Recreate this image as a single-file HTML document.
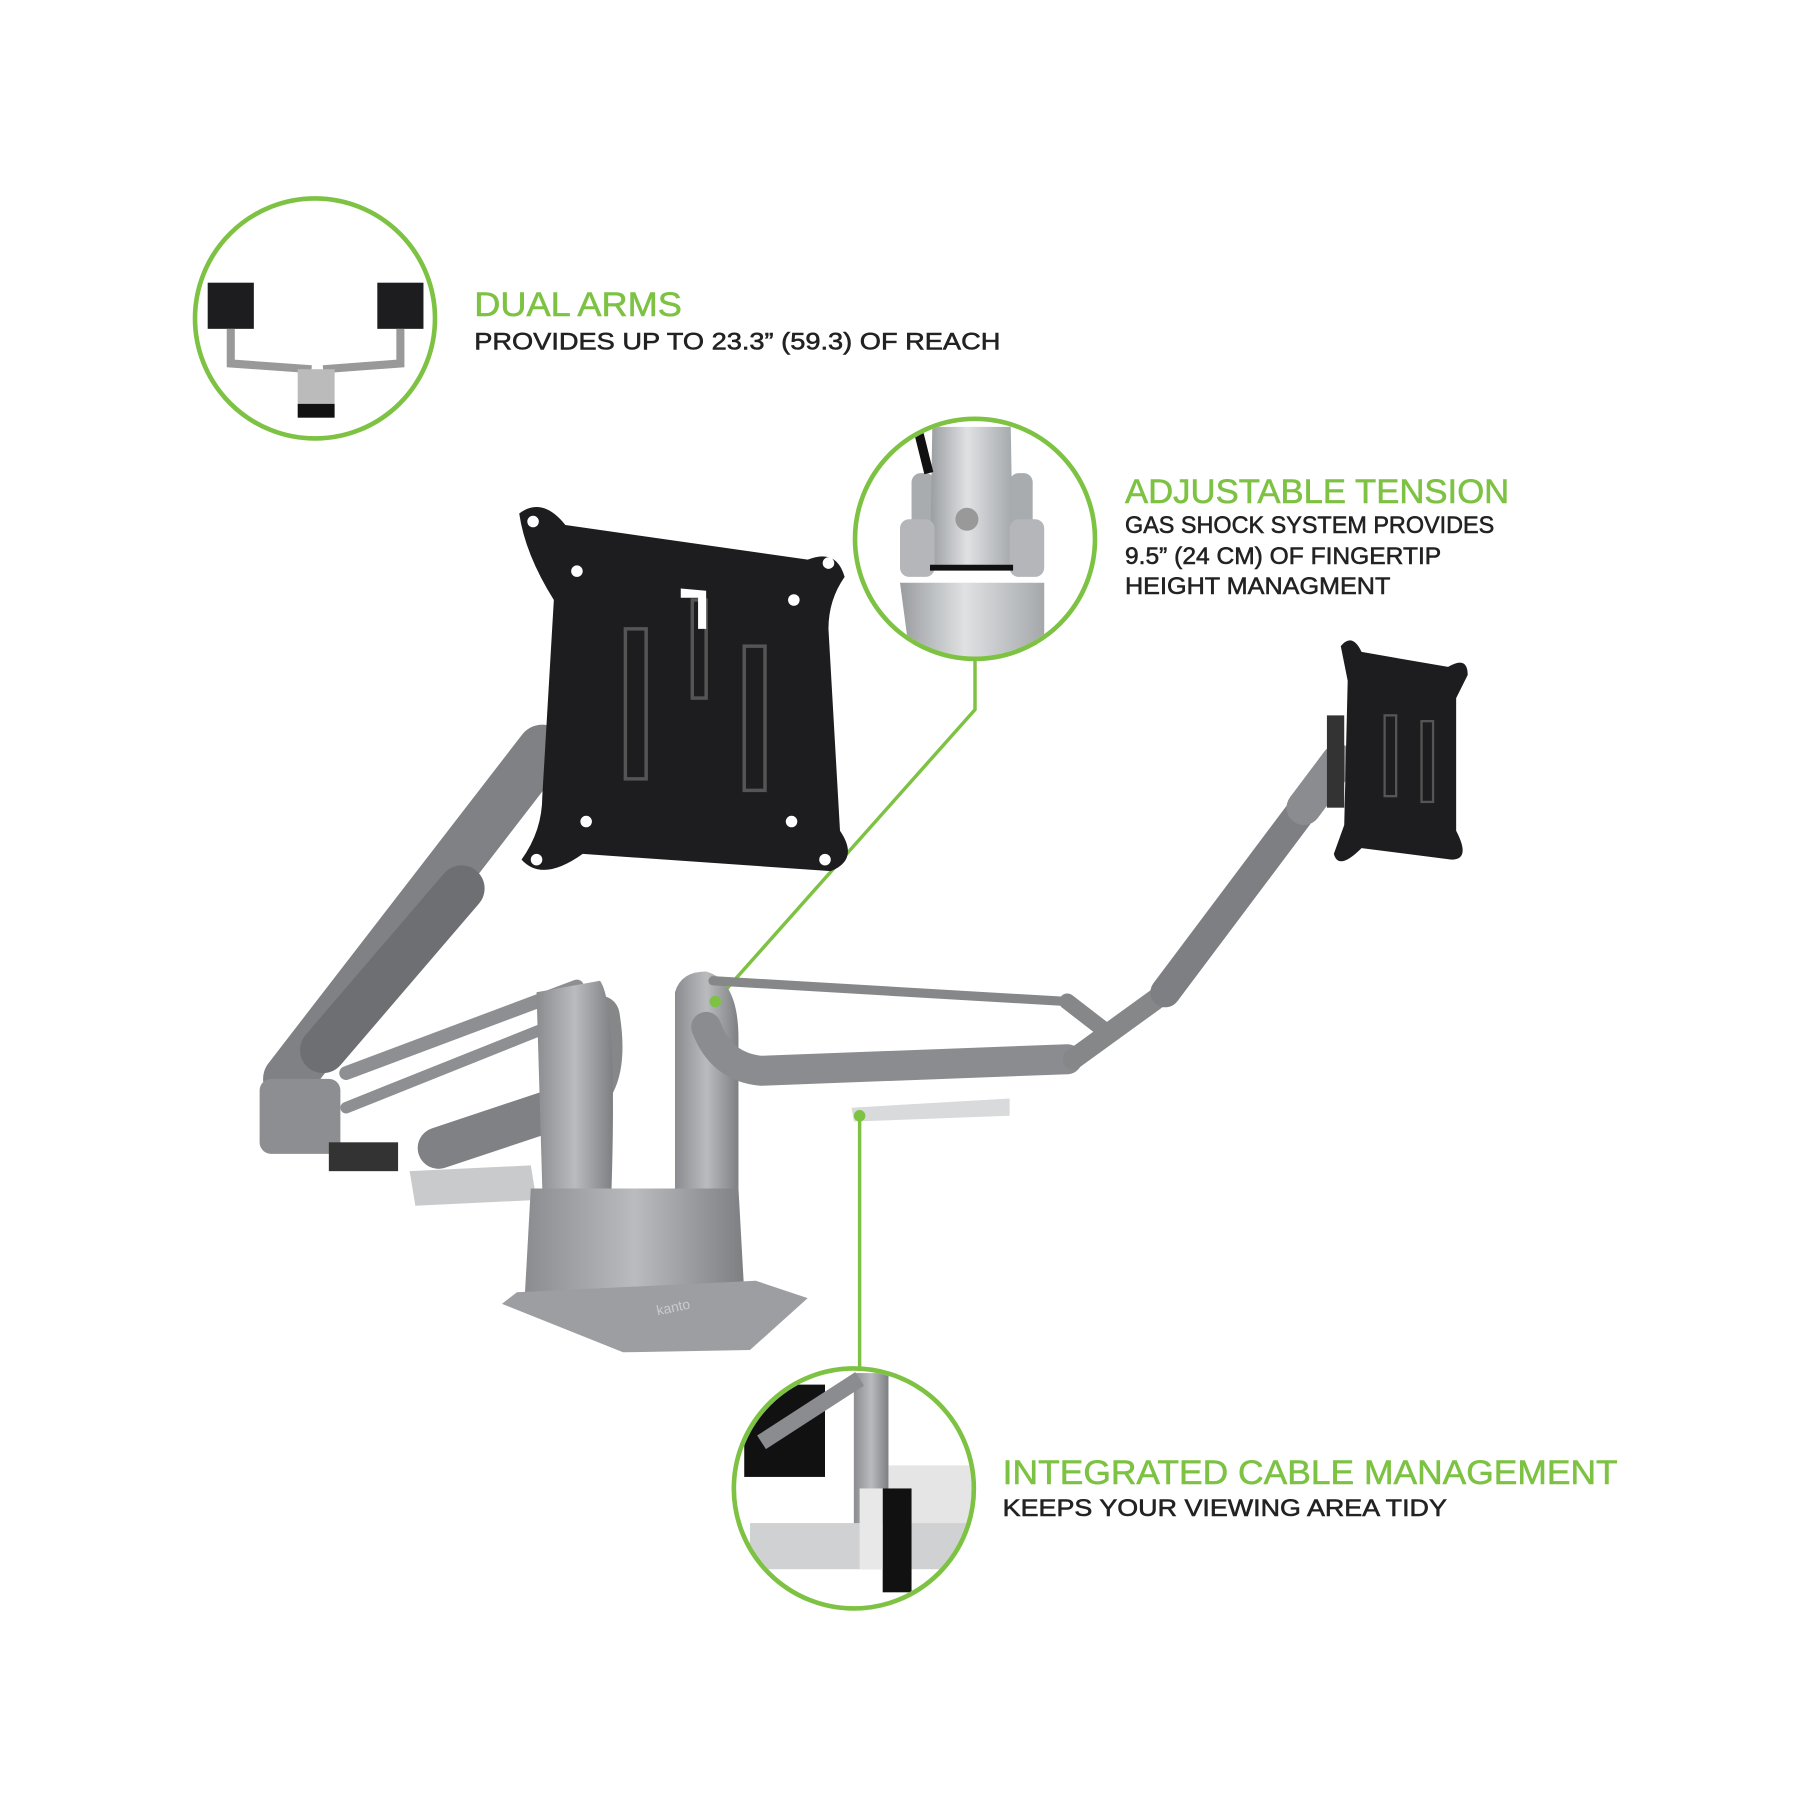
<!DOCTYPE html>
<html><head><meta charset="utf-8"><style>
html,body{margin:0;padding:0;background:#fff;}
svg{display:block}
text{font-family:"Liberation Sans",sans-serif;}
</style></head><body>
<svg width="1800" height="1800" viewBox="0 0 1560 1560" xmlns="http://www.w3.org/2000/svg">
<defs>
<linearGradient id="met" x1="0" y1="0" x2="1" y2="0"><stop offset="0" stop-color="#8a8c8f"/><stop offset=".5" stop-color="#b9bbbe"/><stop offset="1" stop-color="#7d7f82"/></linearGradient>
<linearGradient id="silv" x1="0" y1="0" x2="1" y2="0"><stop offset="0" stop-color="#9a9da0"/><stop offset=".45" stop-color="#dfe1e3"/><stop offset="1" stop-color="#a5a8ab"/></linearGradient>
<clipPath id="c1"><circle cx="273" cy="276" r="102"/></clipPath>
<clipPath id="c2"><circle cx="845" cy="467" r="102"/></clipPath>
<clipPath id="c3"><circle cx="740" cy="1290" r="102"/></clipPath>
</defs>

<polyline points="845,570 845,615 620,868" fill="none" stroke="#7dc242" stroke-width="3"/>
<line x1="745" y1="965" x2="745" y2="1188" stroke="#7dc242" stroke-width="3"/>

<g stroke-linecap="round" fill="none">
<line x1="470" y1="650" x2="250" y2="935" stroke="#7f8184" stroke-width="44"/>
<line x1="400" y1="770" x2="280" y2="910" stroke="#6d6f72" stroke-width="40"/>
<line x1="300" y1="930" x2="500" y2="855" stroke="#8d8f92" stroke-width="12"/>
<line x1="300" y1="960" x2="500" y2="880" stroke="#8d8f92" stroke-width="10"/>
<line x1="380" y1="995" x2="500" y2="955" stroke="#7f8184" stroke-width="36"/>
<path d="M500,955 Q530,940 520,880" stroke="#858789" stroke-width="34"/>
</g>
<rect x="225" y="935" width="70" height="65" rx="10" fill="#8c8e91"/>
<rect x="285" y="990" width="60" height="25" fill="#333"/>
<path d="M355,1015 L460,1010 L465,1040 L360,1045 Z" fill="#c8cacc"/>
<path d="M465,860 L520,850 Q535,870 530,1030 L470,1030 Z" fill="url(#met)"/>
<path d="M585,860 Q590,842 612,842 Q640,850 640,900 L640,1040 L585,1040 Z" fill="url(#met)"/>
<path d="M460,1030 L640,1030 L645,1120 L455,1120 Z" fill="url(#met)"/>
<path d="M448,1120 L655,1110 L700,1125 L650,1170 L540,1172 L435,1130 Z" fill="#9c9ea1"/>
<text x="570" y="1140" font-size="12" fill="#c9cbcd" transform="rotate(-12 570 1140)">kanto</text>
<g stroke-linecap="round" fill="none">
<path d="M612,890 Q625,925 660,928 L925,918" stroke="#8a8c8f" stroke-width="26"/>
<line x1="618" y1="850" x2="925" y2="868" stroke="#858789" stroke-width="8"/>
<line x1="925" y1="868" x2="960" y2="895" stroke="#858789" stroke-width="14"/>
<line x1="930" y1="918" x2="1010" y2="860" stroke="#858789" stroke-width="18"/>
<line x1="1010" y1="860" x2="1130" y2="700" stroke="#7d7f82" stroke-width="26"/>
<line x1="1130" y1="700" x2="1160" y2="660" stroke="#8a8c8f" stroke-width="30"/>
</g>
<path d="M738,960 L875,952 L875,967 L740,972 Z" fill="#d8dadc"/>
<circle cx="620" cy="868" r="5" fill="#7dc242"/>
<circle cx="745" cy="967" r="5" fill="#7dc242"/>

<path d="M450,445 Q470,430 490,455 L700,485 Q725,475 732,500 Q718,520 718,545 L728,720 Q745,745 720,755 L505,740 Q470,765 452,745 Q470,720 470,690 L480,520 Q455,480 450,445 Z" fill="#1d1d1f"/>
<g fill="#fff"><circle cx="462" cy="452" r="5"/><circle cx="718" cy="488" r="5"/><circle cx="500" cy="495" r="5"/><circle cx="688" cy="520" r="5"/><circle cx="465" cy="745" r="5"/><circle cx="715" cy="745" r="5"/><circle cx="508" cy="712" r="5"/><circle cx="686" cy="712" r="5"/></g>
<g fill="none" stroke="#555" stroke-width="3"><rect x="542" y="545" width="18" height="130"/><rect x="645" y="560" width="18" height="125"/><rect x="600" y="520" width="12" height="85"/></g>
<path d="M590,510 L612,512 L612,545 L605,545 L605,518 L590,518 Z" fill="#fff"/>

<path d="M1162,560 Q1172,548 1180,565 L1255,578 Q1272,568 1272,585 L1262,605 L1262,720 Q1275,745 1258,745 L1180,735 Q1160,755 1156,740 L1165,715 L1168,590 Z" fill="#1d1d1f"/>
<rect x="1150" y="620" width="15" height="80" fill="#333"/>
<g fill="none" stroke="#555" stroke-width="2"><rect x="1200" y="620" width="10" height="70"/><rect x="1232" y="625" width="10" height="70"/></g>

<g clip-path="url(#c1)">
<rect x="180" y="245" width="40" height="40" fill="#1d1d1f"/><rect x="327" y="245" width="40" height="40" fill="#1d1d1f"/>
<path d="M200,285 L200,315 L270,320 M347,285 L347,315 L280,320" stroke="#999" stroke-width="7" fill="none"/>
<rect x="258" y="320" width="32" height="30" fill="#bbb"/><rect x="258" y="350" width="32" height="12" fill="#111"/>
</g>
<circle cx="273" cy="276" r="104" fill="none" stroke="#7dc242" stroke-width="4"/>

<g clip-path="url(#c2)">
<rect x="740" y="360" width="210" height="220" fill="#fff"/>
<rect x="790" y="410" width="20" height="70" rx="8" fill="#a9acaf"/>
<rect x="875" y="410" width="20" height="70" rx="8" fill="#a9acaf"/>
<path d="M808,370 L876,370 L878,490 L806,490 Z" fill="url(#silv)"/>
<rect x="780" y="450" width="30" height="50" rx="8" fill="#b4b6b9"/><rect x="875" y="450" width="30" height="50" rx="8" fill="#b4b6b9"/>
<path d="M780,505 L905,505 L905,580 L790,580 Z" fill="url(#silv)"/>
<path d="M806,492 L878,492" stroke="#111" stroke-width="5"/>
<circle cx="838" cy="450" r="10" fill="#999"/>
<path d="M795,370 L805,410" stroke="#111" stroke-width="8"/>
</g>
<circle cx="845" cy="467" r="104" fill="none" stroke="#7dc242" stroke-width="4"/>

<g clip-path="url(#c3)">
<rect x="645" y="1200" width="70" height="80" fill="#111"/>
<rect x="740" y="1190" width="30" height="140" fill="url(#met)"/>
<line x1="660" y1="1250" x2="745" y2="1195" stroke="#8a8c8f" stroke-width="14"/>
<rect x="770" y="1270" width="80" height="50" fill="#e5e5e5"/>
<rect x="650" y="1320" width="200" height="40" fill="#cfd1d3"/>
<rect x="765" y="1290" width="25" height="90" fill="#111"/>
<rect x="745" y="1290" width="20" height="70" fill="#e8e8e8"/>
</g>
<circle cx="740" cy="1290" r="104" fill="none" stroke="#7dc242" stroke-width="4"/>

<g stroke-width="0.5">
<text x="411" y="274" font-size="30" fill="#7dc242" stroke="#7dc242" textLength="180" lengthAdjust="spacingAndGlyphs">DUAL ARMS</text>
<text x="411" y="303" font-size="21" fill="#222" stroke="#222" textLength="456" lengthAdjust="spacingAndGlyphs">PROVIDES UP TO 23.3” (59.3) OF REACH</text>
<text x="975" y="436" font-size="30" fill="#7dc242" stroke="#7dc242" textLength="333" lengthAdjust="spacingAndGlyphs">ADJUSTABLE TENSION</text>
<text x="975" y="462" font-size="21" fill="#222" stroke="#222" textLength="320" lengthAdjust="spacingAndGlyphs">GAS SHOCK SYSTEM PROVIDES</text>
<text x="975" y="489" font-size="21" fill="#222" stroke="#222" textLength="274" lengthAdjust="spacingAndGlyphs">9.5” (24 CM) OF FINGERTIP</text>
<text x="975" y="515" font-size="21" fill="#222" stroke="#222" textLength="230" lengthAdjust="spacingAndGlyphs">HEIGHT MANAGMENT</text>
<text x="869" y="1286" font-size="30" fill="#7dc242" stroke="#7dc242" textLength="533" lengthAdjust="spacingAndGlyphs">INTEGRATED CABLE MANAGEMENT</text>
<text x="869" y="1314" font-size="21" fill="#222" stroke="#222" textLength="385" lengthAdjust="spacingAndGlyphs">KEEPS YOUR VIEWING AREA TIDY</text>
</g>
</svg>
</body></html>
